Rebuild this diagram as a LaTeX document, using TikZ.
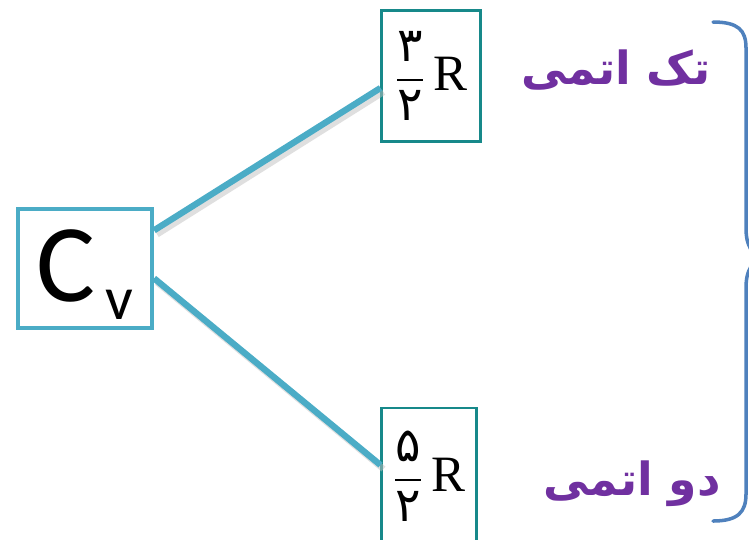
\documentclass[tikz,border=0pt]{standalone}
\usepackage{amsmath}
\usepackage{fontspec}
\setmainfont{Liberation Serif}
\newfontfamily\cvfont{Carlito}
\newfontfamily\arabicfont[Script=Arabic]{DejaVu Sans}
\TeXXeTstate=1
\usepackage{xcolor}
\usepackage{tikz}
\usetikzlibrary{positioning, calc}
\definecolor{cvblue}{HTML}{4BACC6}
\definecolor{boxteal}{HTML}{17898A}
\definecolor{labelpurple}{HTML}{7030A0}
\definecolor{braceblue}{HTML}{4F81BD}
% کسر با ارقام فارسی
\newcommand{\persfrac}[2]{\fontsize{27}{32}\selectfont$\dfrac{\text{\arabicfont #1}}{\text{\arabicfont #2}}$\hbox{\fontsize{29}{29}\selectfont\,R}}

\begin{document}
\begin{tikzpicture}[x=0.02cm, y=-0.02cm,
    cvbox/.style={draw=cvblue, line width=2.4pt, fill=white, inner sep=0pt, minimum width=2.68cm, minimum height=2.38cm},
    valbox/.style={draw=boxteal, line width=1.2pt, inner sep=0pt, minimum width=1.98cm},
    branch/.style={cvblue, line width=3.6pt},
    branchshadow/.style={black!25, line width=3.6pt, opacity=0.5},
    kindlabel/.style={text=labelpurple, font=\arabicfont\bfseries\fontsize{26}{30}\selectfont},
    bracepath/.style={braceblue, line width=2pt, line cap=round}]
    \useasboundingbox (0,0) rectangle (749,539);
    % جعبه ظرفیت گرمایی
    \node[cvbox] (cv) at (85,268.5) {\raisebox{-19pt}[0pt][0pt]{\cvfont\fontsize{63}{63}\selectfont C\hspace{6pt}\raisebox{-10pt}{\fontsize{35}{35}\selectfont v}}};
    % مقادیر
    \node[valbox, minimum height=2.62cm] (mono) at (431,76) {\persfrac{۳}{۲}};
    \node[valbox, minimum height=2.72cm, minimum width=1.9cm] (di) at (429,476) {\raisebox{12pt}{\persfrac{۵}{۲}}};
    % شاخه ها
    \coordinate (cvtop) at ($(cv.north east)!0.19!(cv.south east)$);
    \coordinate (cvbot) at ($(cv.north east)!0.58!(cv.south east)$);
    \coordinate (monoin) at ([yshift=-0.24cm]mono.west);
    \coordinate (diin) at ([yshift=0.22cm]di.west);
    \draw[branchshadow] ([shift={(3,4)}]cvtop) -- ([shift={(3,4)}]monoin);
    \draw[branchshadow] ([shift={(3,4)}]cvbot) -- ([shift={(3,4)}]diin);
    \draw[branch] (cvtop) -- (monoin);
    \draw[branch] (cvbot) -- (diin);
    % برچسب ها
    \node[kindlabel] (monolabel) at (616,70) {\beginR تک اتمی\endR};
    \node[kindlabel] (dilabel) at (632,484) {\beginR دو اتمی\endR};
    % آکولاد
    \draw[bracepath] (713,22) .. controls (738,22) and (746,30) .. (746,48) -- (746,228)
        .. controls (746,246) and (752,255) .. (764,258) .. controls (752,261) and (746,270) .. (746,288)
        -- (746,494) .. controls (746,512) and (738,521) .. (713,521);
\end{tikzpicture}
\end{document}
